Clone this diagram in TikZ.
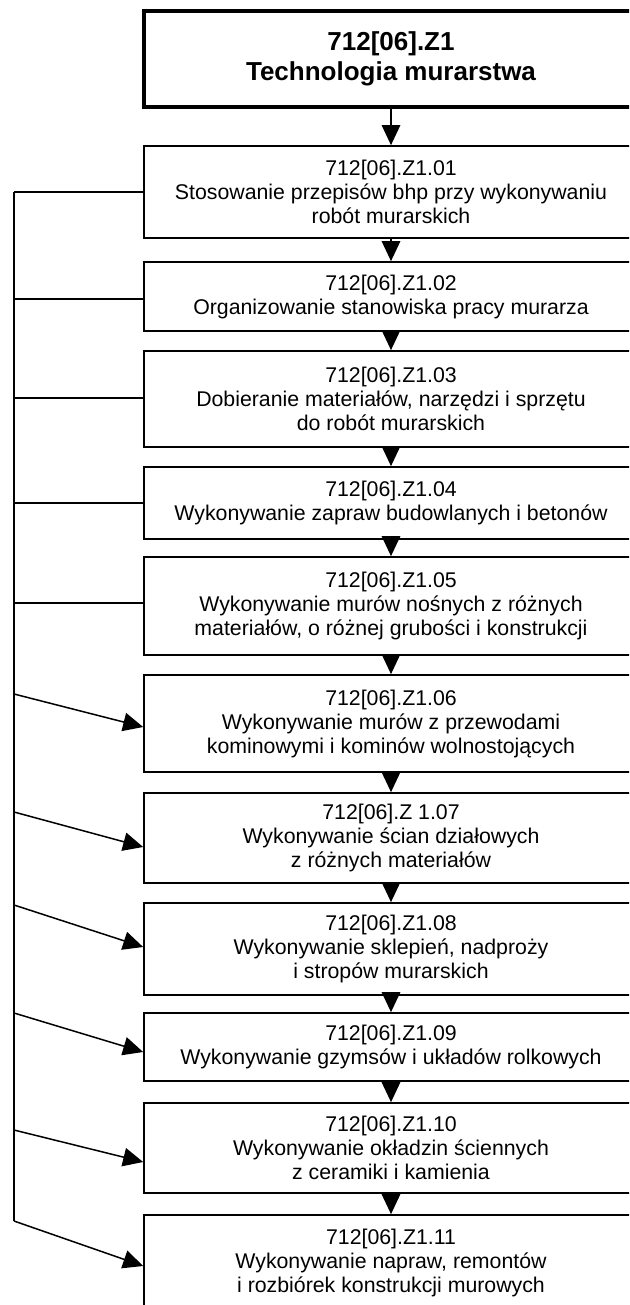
\documentclass[tikz,border=0pt]{standalone}
\usepackage{fontspec}
\setmainfont{Liberation Sans}
\usetikzlibrary{arrows.meta}

\begin{document}
\begin{tikzpicture}[x=1pt, y=-1pt,
  modul/.style={draw, line width=1.7pt, minimum width=494pt, inner sep=0pt, align=center, font=\fontsize{21.3}{24}\selectfont},
  glowny/.style={modul, line width=3.4pt, font=\bfseries\fontsize{26}{30}\selectfont},
  flow/.style={line width=1.5pt, -{Triangle[length=20pt,width=18.5pt]}},
  link/.style={line width=1.5pt}]
\fill[white] (0,0) rectangle (629,1305);
\useasboundingbox (0,0) rectangle (629,1305);
\clip (0,0) rectangle (629,1305);
\node[glowny, minimum height=96pt] (m0) at (391, 59) {712[06].Z1\\Technologia murarstwa};
\node[modul, minimum height=92pt] (m1) at (391, 192) {712[06].Z1.01\\Stosowanie przepisów bhp przy wykonywaniu\\robót murarskich};
\node[modul, minimum height=69pt] (m2) at (391, 296.5) {712[06].Z1.02\\Organizowanie stanowiska pracy murarza};
\node[modul, minimum height=96pt] (m3) at (391, 399) {712[06].Z1.03\\Dobieranie materiałów, narzędzi i sprzętu\\do robót murarskich};
\node[modul, minimum height=72pt] (m4) at (391, 503) {712[06].Z1.04\\Wykonywanie zapraw budowlanych i betonów};
\node[modul, minimum height=98pt] (m5) at (391, 606) {712[06].Z1.05\\Wykonywanie murów nośnych z różnych\\materiałów, o różnej grubości i konstrukcji};
\node[modul, minimum height=97pt] (m6) at (391, 723.5) {712[06].Z1.06\\Wykonywanie murów z przewodami\\kominowymi i kominów wolnostojących};
\node[modul, minimum height=90pt] (m7) at (391, 838) {712[06].Z 1.07\\Wykonywanie ścian działowych\\z różnych materiałów};
\node[modul, minimum height=92pt] (m8) at (391, 949) {712[06].Z1.08\\Wykonywanie sklepień, nadproży\\i stropów murarskich};
\node[modul, minimum height=68pt] (m9) at (391, 1047) {712[06].Z1.09\\Wykonywanie gzymsów i układów rolkowych};
\node[modul, minimum height=90pt] (m10) at (391, 1148) {712[06].Z1.10\\Wykonywanie okładzin ściennych\\z ceramiki i kamienia};
\node[modul, minimum height=95pt] (m11) at (391, 1262.5) {712[06].Z1.11\\Wykonywanie napraw, remontów\\i rozbiórek konstrukcji murowych};

% kolejnosc jednostek
\draw[flow] (m0) -- (m1);
\draw[flow] (m1) -- (m2);
\draw[flow] (m2) -- (m3);
\draw[flow] (m3) -- (m4);
\draw[flow] (m4) -- (m5);
\draw[flow] (m5) -- (m6);
\draw[flow] (m6) -- (m7);
\draw[flow] (m7) -- (m8);
\draw[flow] (m8) -- (m9);
\draw[flow] (m9) -- (m10);
\draw[flow] (m10) -- (m11);

% linia boczna
\coordinate (t1) at (14, 192);
\coordinate (t2) at (14, 299);
\coordinate (t3) at (14, 398);
\coordinate (t4) at (14, 503);
\coordinate (t5) at (14, 603);
\coordinate (t6) at (14, 694);
\coordinate (t7) at (14, 812);
\coordinate (t8) at (14, 905);
\coordinate (t9) at (14, 1013);
\coordinate (t10) at (14, 1130);
\coordinate (t11) at (14, 1221);
\draw[link] (t1) -- (t11);
\draw[link] (t1) -- (m1.west);
\draw[link] (t2) -- ([yshift=-2.5pt]m2.west);
\draw[link] (t3) -- ([yshift=1pt]m3.west);
\draw[link] (t4) -- (m4.west);
\draw[link] (t5) -- ([yshift=3pt]m5.west);
\draw[flow] (t6) -- ([yshift=-3.5pt]m6.west);
\draw[flow] (t7) -- ([yshift=-9pt]m7.west);
\draw[flow] (t8) -- ([yshift=2pt]m8.west);
\draw[flow] (t9) -- ([yshift=-5pt]m9.west);
\draw[flow] (t10) -- ([yshift=-14pt]m10.west);
\draw[flow] (t11) -- ([yshift=-3.5pt]m11.west);
\end{tikzpicture}
\end{document}
